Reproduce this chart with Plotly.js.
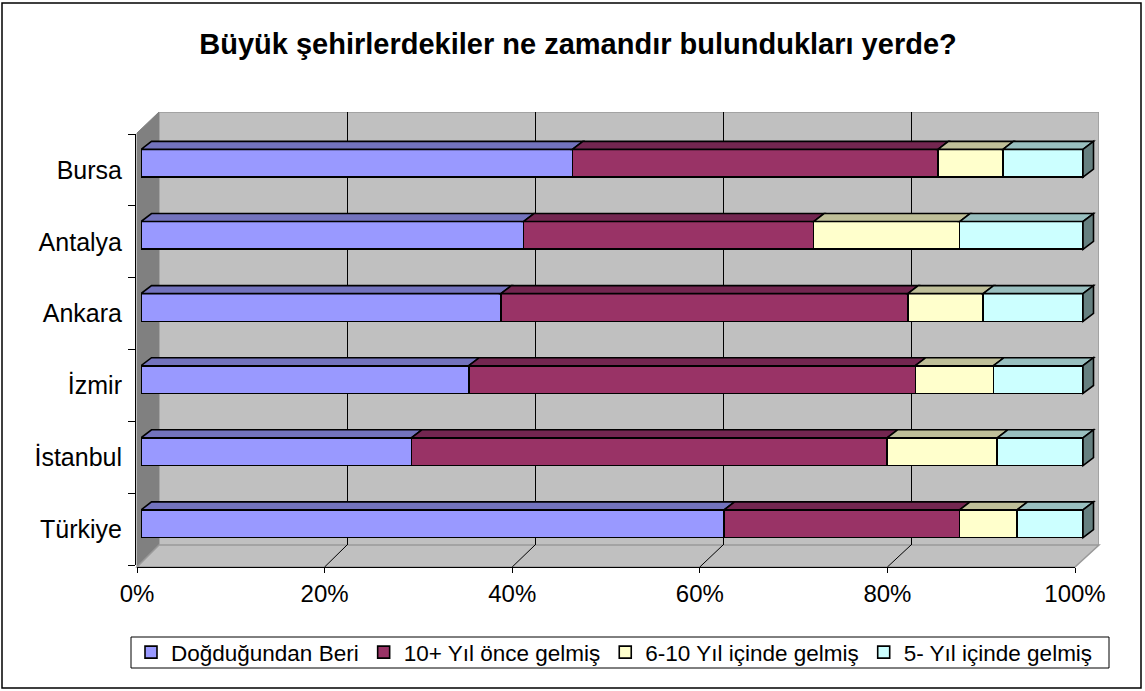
<!DOCTYPE html>
<html>
<head>
<meta charset="utf-8">
<script src="https://cdn.plot.ly/plotly-3.0.1.min.js"></script>
<style>html,body{margin:0;padding:0;background:#fff;}</style>
</head>
<body>
<div id="chart" style="width:1145px;height:691px;"></div>
<script>
// ---- data (bottom to top, as in the chart) ----
const categories = ['Türkiye', 'İstanbul', 'İzmir', 'Ankara', 'Antalya', 'Bursa'];
const seriesNames = ['Doğduğundan Beri', '10+ Yıl önce gelmiş', '6-10 Yıl içinde gelmiş', '5- Yıl içinde gelmiş'];
const dogdugundanBeri = [61.9, 28.7, 34.8, 38.2, 40.6, 45.8];
const onYilOnce = [25.0, 50.5, 47.4, 43.2, 30.8, 38.8];
const altiOnYil = [6.1, 11.7, 8.3, 8.0, 15.5, 6.9];
const besYil = [7.0, 9.1, 9.5, 10.6, 13.1, 8.5];
const xTicks = [0, 20, 40, 60, 80, 100];
const xTickText = ['0%', '20%', '40%', '60%', '80%', '100%'];
const title = 'Büyük şehirlerdekiler ne zamandır bulundukları yerde?';

// ---- styling ----
const W = 1145, H = 691;
const FONT = 'Liberation Sans, Arial, sans-serif';
const frontColors = ['#9999FF', '#993366', '#FFFFCC', '#CCFFFF'];
const topColors = ['#7373BD', '#732650', '#BFBF99', '#99BFBF'];
const sideColor = '#668080';
const px = v => v / W;
const py = v => 1 - v / H;

// geometry (pixels)
const barFront0 = 141, barFront100 = 1083;        // bar front faces
const barRowTop = 127.25, barRowBottom = 559.85;  // bar category band
const wallL = 159, wallR = 1099, wallTop = 112, wallBottom = 545;
const floorL = 137, floorR = 1075, floorY = 567;
const edgeTop = 133;
const labelTop = 134, labelBottom = 565;
const barWidth = 0.385;
const depthX = 1.115, depthY = 0.111;   // bar depth in data units
const xMax = 102;

const allSeries = [dogdugundanBeri, onYilOnce, altiOnYil, besYil];
const idx = categories.map((c, i) => i);

const traces = [];
// back wall subplot (x/y) placeholder
traces.push({type: 'scatter', x: [], y: [], xaxis: 'x', yaxis: 'y', showlegend: false, hoverinfo: 'skip'});
// bars on x2/y2
allSeries.forEach((vals, s) => {
  traces.push({
    type: 'bar', orientation: 'h', name: seriesNames[s],
    x: vals, y: idx, xaxis: 'x2', yaxis: 'y2',
    width: barWidth, textposition: 'none',
    marker: {color: frontColors[s], line: {color: '#000', width: 1.6}},
    customdata: categories, hovertemplate: '%{customdata}: %{x}%<extra>' + seriesNames[s] + '</extra>'
  });
});
// label axes subplot (x3/y3)
traces.push({type: 'scatter', x: [], y: [], xaxis: 'x3', yaxis: 'y3', showlegend: false, hoverinfo: 'skip'});

const shapes = [];
// left wall
shapes.push({type: 'path', xref: 'paper', yref: 'paper', layer: 'below',
  path: `M${px(floorL)},${py(floorY)} L${px(floorL)},${py(edgeTop)} L${px(wallL)},${py(wallTop)} L${px(wallL)},${py(wallBottom)} Z`,
  fillcolor: '#808080', line: {color: '#808080', width: 1}});
// floor
shapes.push({type: 'path', xref: 'paper', yref: 'paper', layer: 'below',
  path: `M${px(floorL)},${py(floorY)} L${px(floorR)},${py(floorY)} L${px(wallR)},${py(wallBottom)} L${px(wallL)},${py(wallBottom)} Z`,
  fillcolor: '#C0C0C0', line: {color: '#999999', width: 1.5}});
// floor grid lines (slanted), from the tick values
xTicks.slice(1, -1).forEach(v => {
  const xf = floorL + (floorR - floorL) * v / 100;
  const xb = wallL + (wallR - wallL) * v / 100;
  shapes.push({type: 'line', xref: 'paper', yref: 'paper', layer: 'below',
    x0: px(xf), y0: py(floorY), x1: px(xb), y1: py(wallBottom), line: {color: '#000', width: 1}});
});
// back wall
shapes.push({type: 'rect', xref: 'x', yref: 'y', layer: 'below', x0: 0, x1: 100, y0: 0, y1: 1,
  fillcolor: '#C0C0C0', line: {color: '#999999', width: 1.5}});

// 3-D bar top faces and end faces
categories.forEach((c, i) => {
  let start = 0;
  const yTop = i + barWidth / 2, yBot = i - barWidth / 2;
  allSeries.forEach((vals, s) => {
    const end = start + vals[i];
    shapes.push({type: 'path', xref: 'x2', yref: 'y2', layer: 'above',
      path: `M${start},${yTop} L${start + depthX},${yTop + depthY} L${end + depthX},${yTop + depthY} L${end},${yTop} Z`,
      fillcolor: topColors[s], line: {color: '#000', width: 1.6}});
    start = end;
  });
  shapes.push({type: 'path', xref: 'x2', yref: 'y2', layer: 'above',
    path: `M${start},${yBot} L${start + depthX},${yBot + depthY} L${start + depthX},${yTop + depthY} L${start},${yTop} Z`,
    fillcolor: sideColor, line: {color: '#000', width: 1.6}});
});
// legend box
shapes.push({type: 'rect', xref: 'paper', yref: 'paper', layer: 'below',
  x0: px(131), x1: px(1109), y0: py(668), y1: py(637), line: {color: '#000', width: 1}, fillcolor: '#FFFFFF'});
// outer border
shapes.push({type: 'rect', xref: 'paper', yref: 'paper', layer: 'above',
  x0: px(2), x1: px(1141), y0: py(688), y1: py(3), line: {color: '#000', width: 1.5}, fillcolor: 'rgba(0,0,0,0)'});

const layout = {
  width: W, height: H, autosize: false,
  margin: {l: 0, r: 0, t: 0, b: 0},
  paper_bgcolor: '#FFFFFF', plot_bgcolor: 'rgba(0,0,0,0)',
  font: {family: FONT, color: '#000'},
  title: {text: '<b>' + title + '</b>', font: {family: FONT, size: 29, color: '#000'},
    x: px(578), xanchor: 'center', y: py(44), yanchor: 'middle', xref: 'paper', yref: 'paper'},
  barmode: 'stack',
  bargap: 0,
  showlegend: true,
  legend: {orientation: 'h', x: px(131), y: py(652.5), xanchor: 'left', yanchor: 'middle',
    borderwidth: 0, bgcolor: 'rgba(0,0,0,0)', font: {family: FONT, size: 22.5, color: '#000'},
    traceorder: 'normal', itemwidth: 30},
  xaxis: {domain: [px(wallL), px(wallR)], range: [0, 100], anchor: 'y',
    tickmode: 'array', tickvals: xTicks.slice(1, -1), showgrid: true, gridcolor: '#000', gridwidth: 1,
    showticklabels: false, ticks: '', zeroline: false, showline: false, fixedrange: true},
  yaxis: {domain: [py(wallBottom), py(wallTop)], range: [0, 1], anchor: 'x', visible: false, fixedrange: true},
  xaxis2: {domain: [px(barFront0), px(barFront0 + (barFront100 - barFront0) * xMax / 100)], range: [0, xMax],
    anchor: 'y2', visible: false, fixedrange: true},
  yaxis2: {domain: [py(barRowBottom), py(barRowTop)], range: [-0.5, categories.length - 0.5],
    anchor: 'x2', visible: false, fixedrange: true},
  xaxis3: {domain: [px(floorL), px(floorR)], range: [0, 100], anchor: 'free', position: py(floorY),
    tickmode: 'array', tickvals: xTicks, ticktext: xTickText, ticks: 'outside', ticklen: 5, tickcolor: '#000',
    showline: true, linecolor: '#000', linewidth: 1, showgrid: false, zeroline: false,
    tickfont: {family: FONT, size: 24, color: '#000'}, ticklabelstandoff: 0, fixedrange: true},
  yaxis3: {domain: [py(labelBottom), py(labelTop)], range: [-0.5, categories.length - 0.5],
    anchor: 'free', position: px(135),
    tickmode: 'array', tickvals: idx, ticktext: categories, ticks: '',
    minor: {tickmode: 'array', tickvals: idx.map(i => i - 0.5).concat([categories.length - 0.5]),
      ticks: 'outside', ticklen: 7, tickcolor: '#000', tickwidth: 1, showgrid: false},
    showline: true, linecolor: '#000', linewidth: 1, showgrid: false, zeroline: false,
    tickfont: {family: FONT, size: 25, color: '#000'}, ticklabelstandoff: 8, fixedrange: true},
  shapes: shapes
};

Plotly.newPlot('chart', traces, layout, {displayModeBar: false, staticPlot: true});
</script>
</body>
</html>
